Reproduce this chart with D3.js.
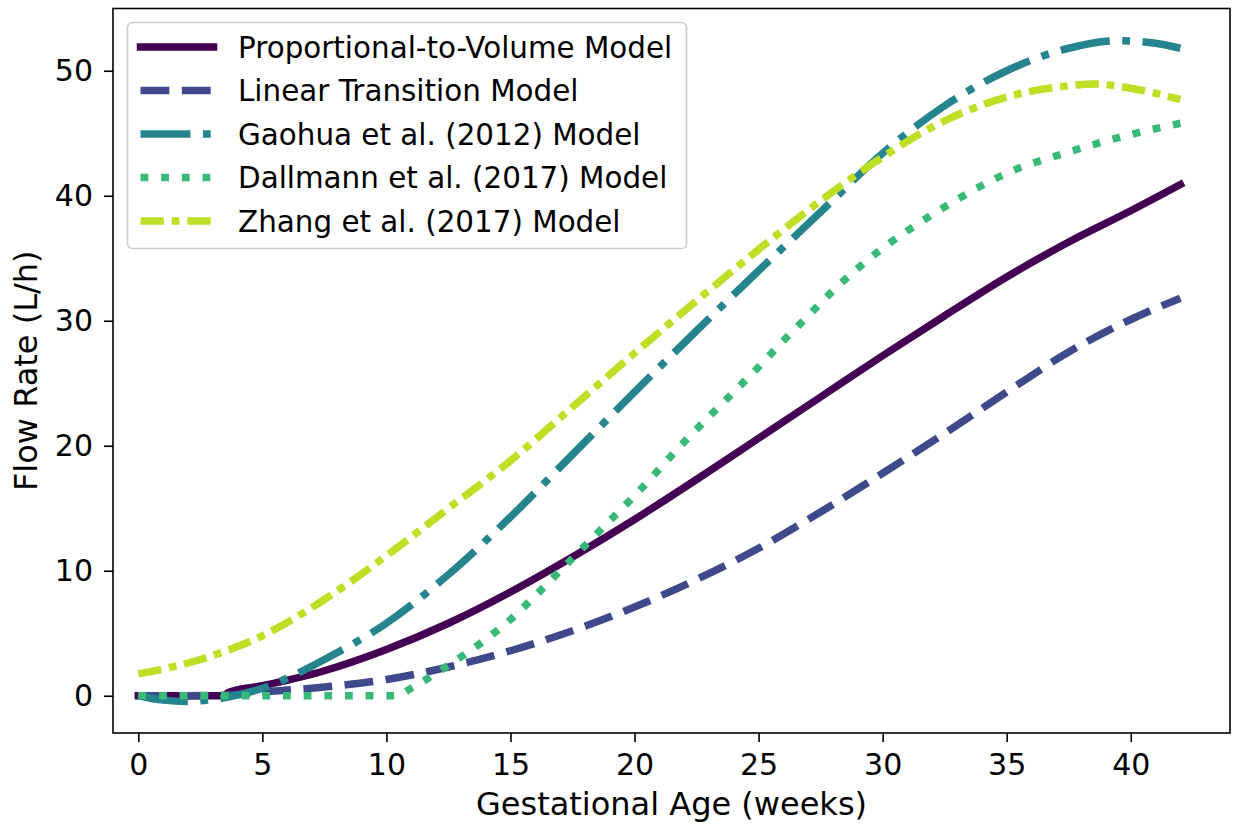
<!DOCTYPE html>
<html>
<head>
<meta charset="utf-8">
<script src="https://cdn.jsdelivr.net/npm/d3@7"></script>
<style>
  html, body { margin: 0; padding: 0; background: #ffffff; }
  svg { display: block; }
  text { font-family: "DejaVu Sans", sans-serif; fill: #000; }
</style>
</head>
<body>
<svg id="chart" width="1236" height="824"></svg>
<script>
// Gestational age (weeks) and flow rate (L/h) for each model
const propWeeks = [0, 1, 2, 3, 3.5, 3.6, 5, 7.5, 10, 12.5, 15, 17.5, 20, 22.5, 25, 27.5, 30, 32.5, 35, 37.5, 40, 42];
const propFlow  = [0, 0, 0, 0, 0, 0.25, 0.8, 2.0, 3.7, 5.8, 8.3, 11.1, 14.1, 17.3, 20.6, 23.9, 27.2, 30.4, 33.5, 36.3, 38.8, 40.9];

const linWeeks = [0, 2, 3.5, 5, 7.5, 10, 12.5, 15, 17.5, 20, 22.5, 25, 27.5, 30, 32.5, 35, 37.5, 40, 42];
const linFlow  = [0, 0, 0.05, 0.3, 0.7, 1.3, 2.3, 3.6, 5.2, 7.1, 9.3, 11.8, 14.7, 17.8, 21.0, 24.3, 27.5, 30.1, 31.8];

const gaoWeeks = [0, 1, 2, 3, 4, 5, 6, 7.5, 10, 12.5, 15, 17.5, 20, 22.5, 25, 27.5, 30, 32.5, 35, 37.5, 39.5, 41, 42];
const gaoFlow  = [0, -0.35, -0.45, -0.3, 0.05, 0.6, 1.4, 2.9, 5.8, 9.7, 14.3, 19.3, 24.3, 29.2, 34.0, 38.7, 43.4, 47.2, 50.0, 51.8, 52.4, 52.2, 51.8];

const dalWeeks = [0, 5, 10.4, 11, 12, 13, 14, 15, 16, 17, 18, 19, 20, 22, 24, 25, 26, 27, 28, 29, 30, 31, 32, 33, 35, 37.5, 40, 42];
const dalFlow  = [0, 0, 0, 0.6, 1.8, 3.1, 4.5, 6.1, 8.0, 10.0, 12.0, 14.0, 16.0, 20.3, 24.3, 26.3, 28.4, 30.4, 32.4, 34.2, 35.8, 37.2, 38.5, 39.7, 41.8, 43.5, 44.9, 45.8];

const zhaWeeks = [0, 2.5, 5, 7.5, 10, 12.5, 15, 17.5, 20, 22.5, 25, 27.5, 30, 32.5, 35, 37.5, 38.5, 40, 42];
const zhaFlow  = [1.75, 2.9, 4.8, 7.7, 11.2, 15.0, 18.8, 23.1, 27.4, 31.6, 35.7, 39.6, 43.1, 46.0, 47.9, 48.8, 48.95, 48.6, 47.7];

const seriesNames = [
  "Proportional-to-Volume Model",
  "Linear Transition Model",
  "Gaohua et al. (2012) Model",
  "Dallmann et al. (2017) Model",
  "Zhang et al. (2017) Model"
];

const xTicks = [0, 5, 10, 15, 20, 25, 30, 35, 40];
const yTicks = [0, 10, 20, 30, 40, 50];

// Line appearance: viridis colours, shared width, per-model dash pattern
const lineWidth = 7.5;
const u = 7.8;
const styles = [
  { color: d3.interpolateViridis(0.0),   dash: null,                                     cap: "square" },
  { color: d3.interpolateViridis(0.225), dash: [3.7 * u, 1.6 * u].join(","),             cap: "butt" },
  { color: d3.interpolateViridis(0.45),  dash: [6.4 * u, 1.6 * u, u, 1.6 * u].join(","), cap: "butt" },
  { color: d3.interpolateViridis(0.675), dash: [u, 1.65 * u].join(","),                  cap: "butt" },
  { color: d3.interpolateViridis(0.9),   dash: [3 * u, u, u, u].join(","),               cap: "butt" }
];

const series = [
  { weeks: propWeeks, flow: propFlow },
  { weeks: linWeeks,  flow: linFlow },
  { weeks: gaoWeeks,  flow: gaoFlow },
  { weeks: dalWeeks,  flow: dalFlow },
  { weeks: zhaWeeks,  flow: zhaFlow }
].map((s, i) => ({
  name: seriesNames[i],
  style: styles[i],
  points: s.weeks.map((w, j) => [w, s.flow[j]])
}));

const svg = d3.select("#chart");
const plotLeft = 113, plotRight = 1230, plotTop = 8.5, plotBottom = 733;
const tickFont = 30, titleFont = 32, legendFont = 29.4;

const x = d3.scaleLinear().domain([-1.02, 44.0]).range([plotLeft, plotRight]);
const y = d3.scaleLinear().domain([-2.98, 54.98]).range([plotBottom, plotTop]);

svg.append("defs").append("clipPath").attr("id", "plot-clip")
  .append("rect").attr("x", plotLeft).attr("y", plotTop)
  .attr("width", plotRight - plotLeft).attr("height", plotBottom - plotTop);

const line = d3.line()
  .x(d => x(d[0]))
  .y(d => y(d[1]))
  .curve(d3.curveMonotoneX);

// Model curves
const curves = svg.append("g").attr("clip-path", "url(#plot-clip)");
series.forEach(s => {
  curves.append("path")
    .datum(s.points)
    .attr("d", line)
    .attr("fill", "none")
    .attr("stroke", s.style.color)
    .attr("stroke-width", lineWidth)
    .attr("stroke-linecap", s.style.cap)
    .attr("stroke-linejoin", "round")
    .attr("stroke-dasharray", s.style.dash);
});

// Axes
const xAxis = svg.append("g")
  .attr("transform", `translate(0,${plotBottom})`)
  .call(d3.axisBottom(x).tickValues(xTicks).tickSize(9).tickPadding(12).tickFormat(d3.format("d")));
const yAxis = svg.append("g")
  .attr("transform", `translate(${plotLeft},0)`)
  .call(d3.axisLeft(y).tickValues(yTicks).tickSize(9).tickPadding(11).tickFormat(d3.format("d")));

[xAxis, yAxis].forEach(g => {
  g.select(".domain").remove();
  g.selectAll(".tick line").attr("stroke", "#000").attr("stroke-width", 1.6);
  g.selectAll(".tick text")
    .attr("fill", "#000")
    .style("font-family", '"DejaVu Sans", sans-serif')
    .style("font-size", tickFont + "px");
});

// Frame around the plotting area
svg.append("rect")
  .attr("x", plotLeft).attr("y", plotTop)
  .attr("width", plotRight - plotLeft).attr("height", plotBottom - plotTop)
  .attr("fill", "none").attr("stroke", "#000").attr("stroke-width", 1.6);

// Axis titles
svg.append("text")
  .attr("x", (plotLeft + plotRight) / 2).attr("y", 815)
  .attr("text-anchor", "middle")
  .style("font-size", titleFont + "px")
  .text("Gestational Age (weeks)");

svg.append("text")
  .attr("transform", `translate(37,${(plotTop + plotBottom) / 2}) rotate(-90)`)
  .attr("text-anchor", "middle")
  .style("font-size", titleFont + "px")
  .text("Flow Rate (L/h)");

// Legend
const legend = svg.append("g");
legend.append("rect")
  .attr("x", 127.5).attr("y", 22.5)
  .attr("width", 559).attr("height", 226)
  .attr("rx", 5).attr("ry", 5)
  .attr("fill", "#ffffff").attr("fill-opacity", 0.8)
  .attr("stroke", "#cccccc").attr("stroke-width", 1.6);

const rowY = i => 47 + i * 43.5;
series.forEach((s, i) => {
  legend.append("line")
    .attr("x1", 140.5).attr("x2", 213.5)
    .attr("y1", rowY(i)).attr("y2", rowY(i))
    .attr("stroke", s.style.color)
    .attr("stroke-width", lineWidth)
    .attr("stroke-linecap", s.style.cap)
    .attr("stroke-dasharray", s.style.dash);
  legend.append("text")
    .attr("x", 238).attr("y", rowY(i))
    .attr("dy", "0.36em")
    .style("font-size", legendFont + "px")
    .text(s.name);
});
</script>
</body>
</html>
